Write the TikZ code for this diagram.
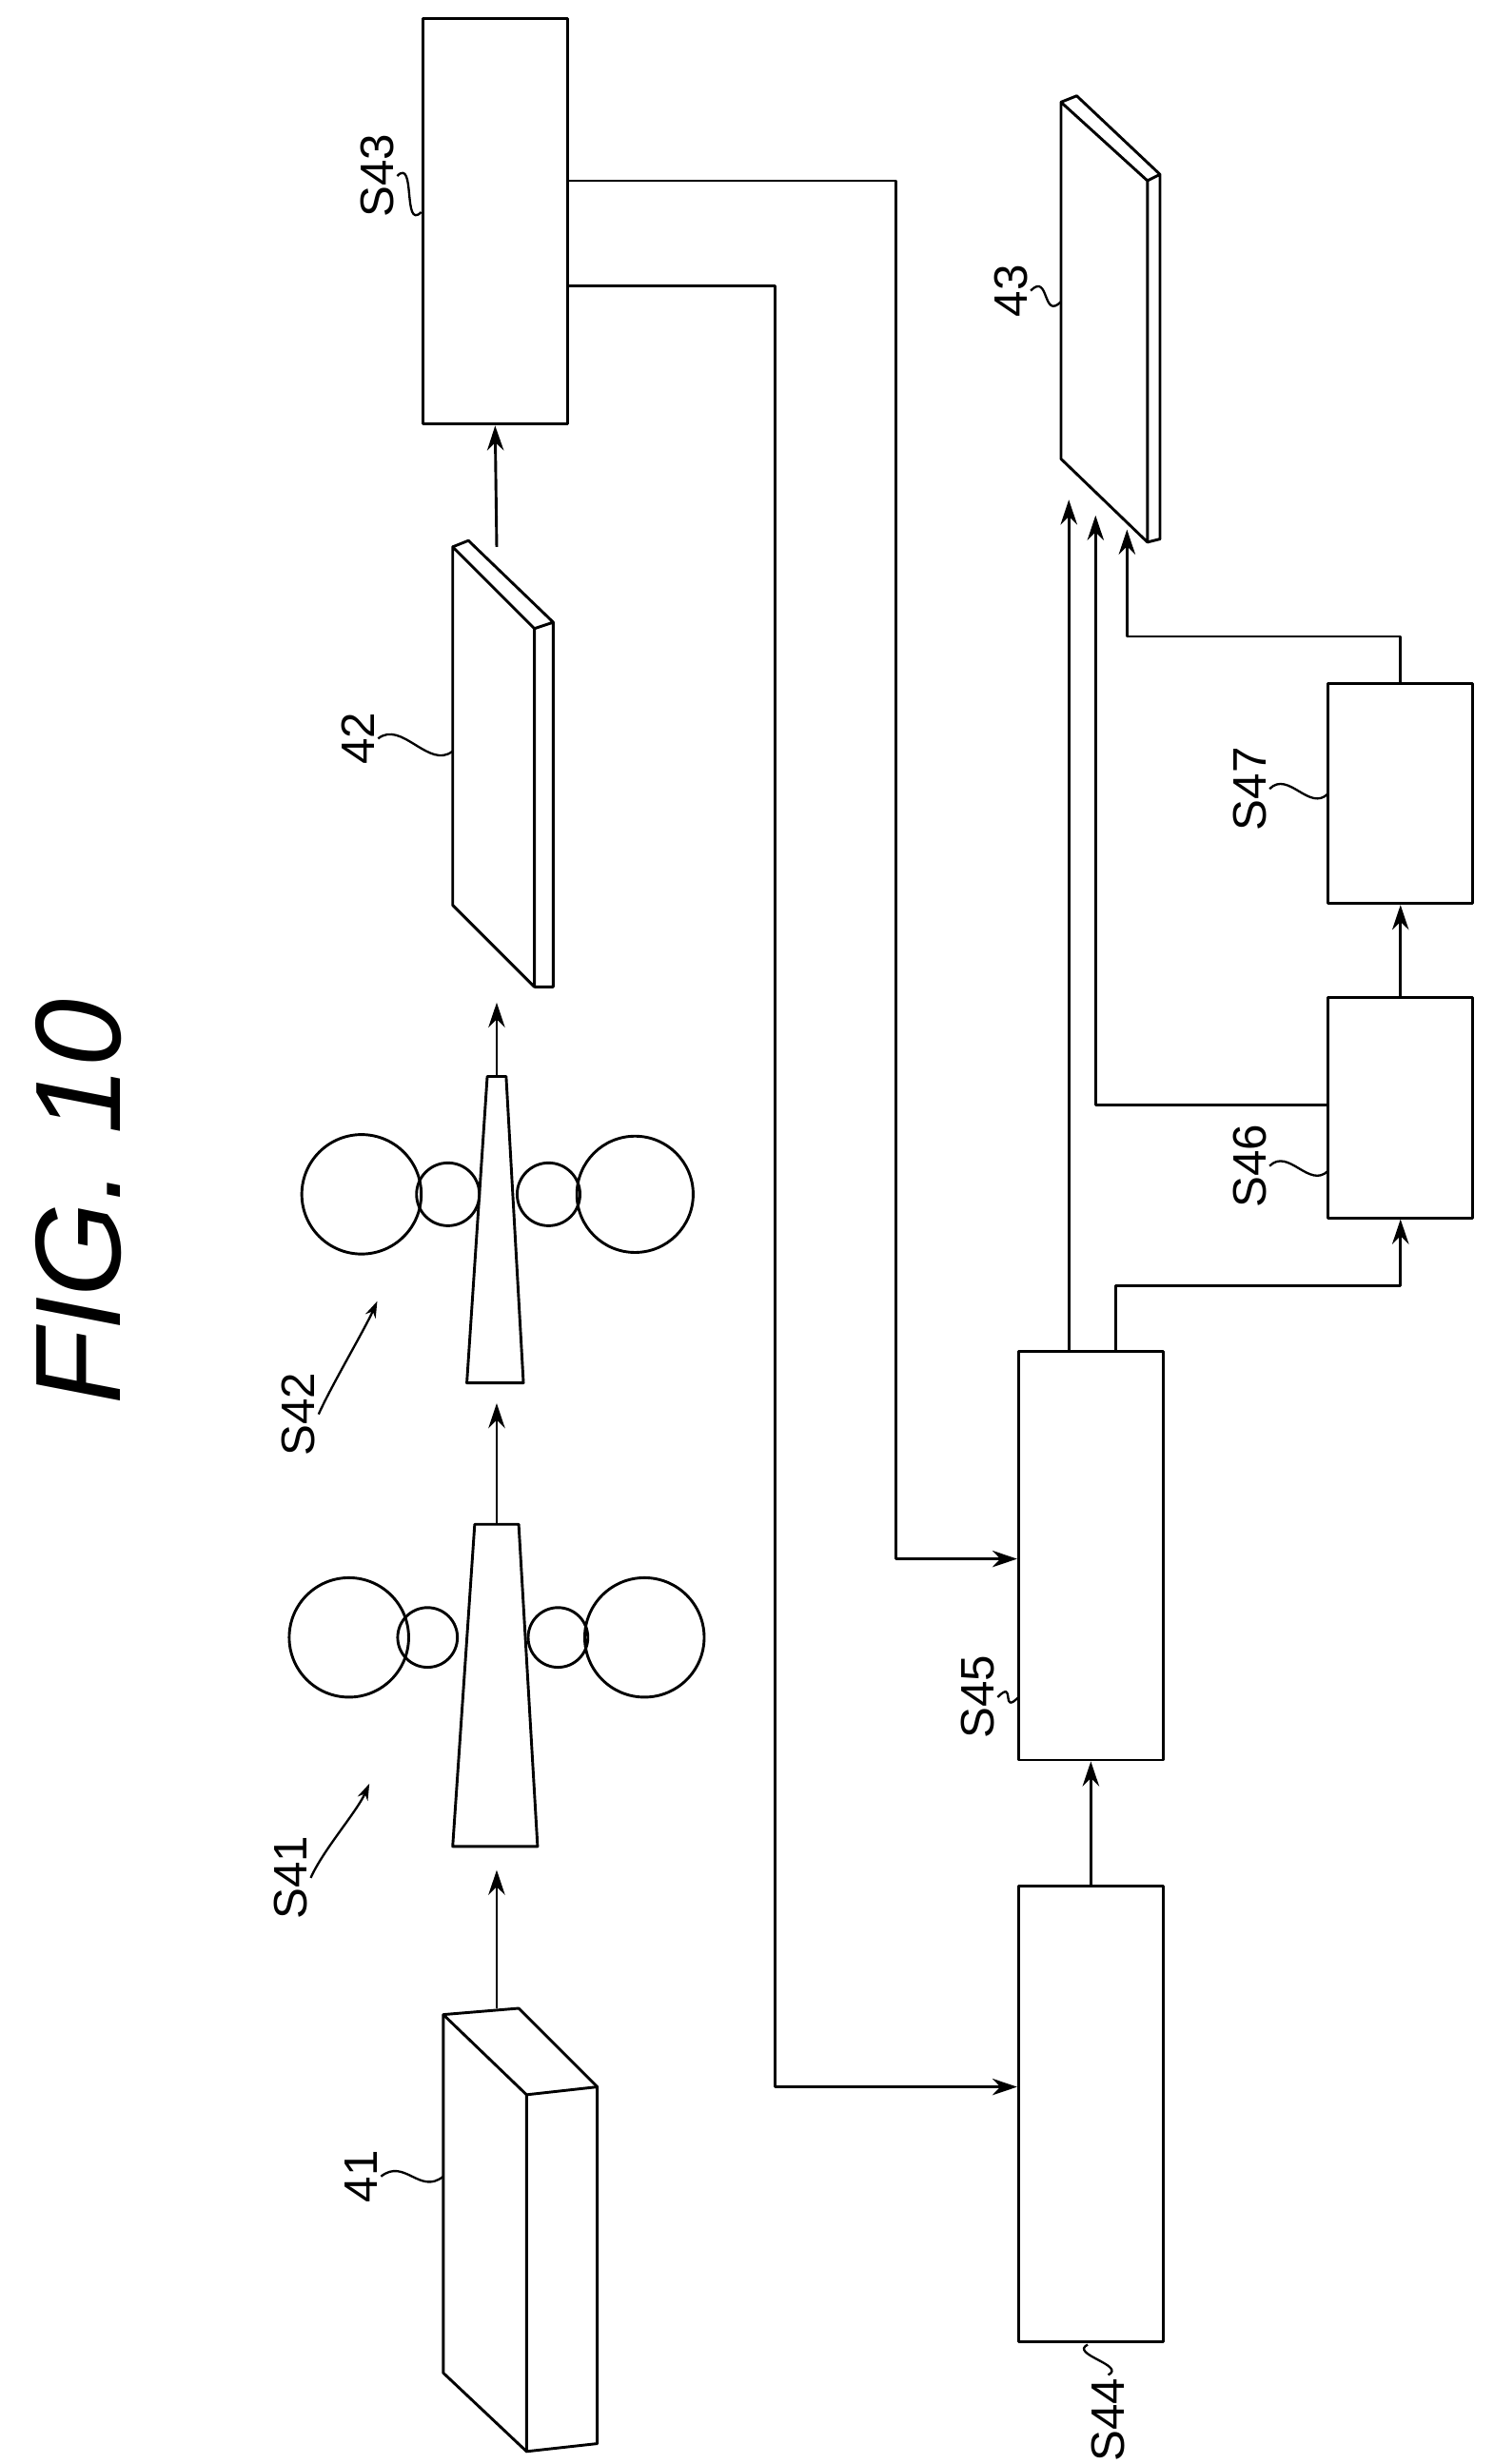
\documentclass[tikz,border=0pt]{standalone}
\usepackage{fontspec}
\setmainfont{Liberation Sans}
\usetikzlibrary{arrows.meta,positioning}
\tikzset{box/.style={draw,line width=1pt}}
\tikzset{link/.style={draw,line width=1pt,-{Stealth[length=9pt,width=6pt]}}}
\tikzset{lbl/.style={rotate=90,font=\fontsize{17}{17}\selectfont,inner sep=1pt}}
\tikzset{lead/.style={draw,line width=0.8pt}}
\begin{document}
\begin{tikzpicture}[x=0.02cm,y=-0.02cm,line join=round]
\useasboundingbox (0,0) rectangle (950,1568);
% title
\node[rotate=90,font=\fontsize{44}{44}\selectfont\itshape] (title) at (50,765) {FIG. 10};

% boxes
\node[box,minimum width=1.84cm,minimum height=5.16cm] (s43) at (315,141) {};
\node[box,minimum width=1.84cm,minimum height=5.8cm] (s44) at (694,1345) {};
\node[box,minimum width=1.84cm,minimum height=5.2cm] (s45) at (694,990) {};
\node[box,minimum width=1.84cm,minimum height=2.8cm] (s46) at (891,705) {};
\node[box,minimum width=1.84cm,minimum height=2.8cm] (s47) at (891,505) {};

% block 41
\draw[box] (282,1282) -- (330,1278) -- (380,1328) -- (380,1555) -- (335,1560) -- (282,1510) -- cycle;
\draw[box] (282,1282) -- (335,1333) -- (335,1560) (335,1333) -- (380,1328);
\coordinate (b41) at (316,1278);
\coordinate (t41) at (282,1385);

% mill S41
\draw[box] (302,970) -- (330,970) -- (342,1175) -- (288,1175) -- cycle;
\foreach \cx/\r in {222/38,272/19,355/19,410/38} \draw[box] (\cx,1042) circle (\r);
\coordinate (in41) at (316,1190);
\coordinate (out41) at (316,970);

% mill S42
\draw[box] (310,685) -- (322,685) -- (333,880) -- (297,880) -- cycle;
\foreach \cx/\r in {230/38,285/20,349/20,404/37} \draw[box] (\cx,760) circle (\r);
\coordinate (in42) at (316,893);
\coordinate (out42) at (316,685);

% plate 42
\draw[box] (288,348) -- (340,400) -- (340,628) -- (288,576) -- cycle;
\draw[box] (288,348) -- (298,344) -- (352,396) -- (352,628) -- (340,628) (340,400) -- (352,396);
\coordinate (in42p) at (316,638);
\coordinate (out42p) at (316,348);

% plate 43
\draw[box] (675,65) -- (730,115) -- (730,345) -- (675,292) -- cycle;
\draw[box] (675,65) -- (685,61) -- (738,111) -- (738,343) -- (730,345) (730,115) -- (738,111);

% flow arrows
\path[link] (b41) -- (in41);
\path[link] (out41) -- (in42);
\path[link] (out42) -- (in42p);
\path[link] (out42p) -- (s43.south);
\path[link] (s44.north) -- (s45.south);
\path[link] (s46.north) -- (s47.south);

% connectors
\coordinate (p1) at (s43.east |- 0,115);
\coordinate (p2) at (s43.east |- 0,182);
\path[link] (p1) -| (570,992) -- (s45.west |- 0,992);
\path[link] (p2) -| (493,1328) -- (s44.west |- 0,1328);
\path[link] (680,860) -- (680,318);
\path[link] (710,860) -- (710,818) -| (s46.south);
\path[link] (s46.west |- 0,703) -| (697,328);
\path[link] (s47.north) |- (717,405) -- (717,337);

% labels
\node[lbl] (l41) at (230,1385) {41};
\node[lbl] (ls41) at (185,1195) {S41};
\node[lbl] (ls42) at (190,900) {S42};
\node[lbl] (l42) at (228,470) {42};
\node[lbl] (ls43) at (240,112) {S43};
\node[lbl] (l43) at (643,185) {43};
\node[lbl] (ls44) at (705,1540) {S44};
\node[lbl] (ls45) at (622,1080) {S45};
\node[lbl] (ls46) at (795,742) {S46};
\node[lbl] (ls47) at (795,502) {S47};

\path[lead] (l41.south) .. controls +(15,-12) and +(-15,12) .. (t41);
\path[lead] (l42.south) .. controls +(15,-12) and +(-15,12) .. (288,478);
\path[lead] (ls43.south) .. controls +(12,-12) and +(-12,12) .. (268,135);
\path[lead] (l43.south) .. controls +(12,-12) and +(-12,12) .. (675,192);
\path[lead] (ls45.south) .. controls +(12,-12) and +(-12,12) .. (648,1080);
\path[lead] (ls46.south) .. controls +(12,-12) and +(-12,12) .. (845,745);
\path[lead] (ls47.south) .. controls +(12,-12) and +(-12,12) .. (845,505);
\path[lead] (ls44.east) .. controls +(12,-6) and +(-12,6) .. (692,1492);
\path[lead,-{Stealth[length=6pt,width=4pt]}] (ls41.south) .. controls +(8,-18) and +(-8,18) .. (235,1135);
\path[lead,-{Stealth[length=6pt,width=4pt]}] (ls42.south) .. controls +(8,-18) and +(-8,18) .. (240,828);
\end{tikzpicture}
\end{document}
